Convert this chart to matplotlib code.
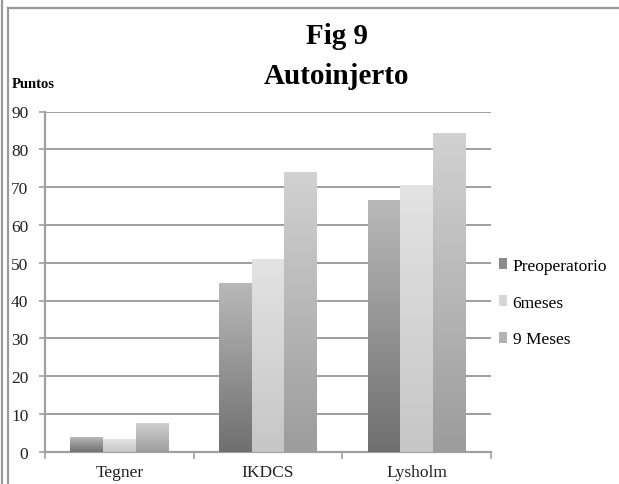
import numpy as np
import matplotlib
matplotlib.use("Agg")
import matplotlib.pyplot as plt
from matplotlib.patches import Patch
from matplotlib.lines import Line2D
from matplotlib.colors import LinearSegmentedColormap

categories = ["Tegner", "IKDCS", "Lysholm"]
series_names = ["Preoperatorio", "6meses", "9 Meses"]
preoperatorio = [3.9, 44.6, 66.6]
seis_meses = [3.3, 51.0, 70.6]
nueve_meses = [7.7, 74.1, 84.2]
y_ticks = [0, 10, 20, 30, 40, 50, 60, 70, 80, 90]

series = [preoperatorio, seis_meses, nueve_meses]
# (bottom colour, top colour) for each series' vertical gradient
gradients = [("#6f6f6f", "#b9b9b9"), ("#c6c6c6", "#e3e3e3"), ("#9c9c9c", "#d2d2d2")]
legend_colors = ["#8c8c8c", "#d6d6d6", "#b2b2b2"]

plt.rcParams["font.family"] = ["Liberation Serif", "DejaVu Serif"]

W, H = 619, 485
fig = plt.figure(figsize=(W / 100, H / 100), dpi=100)
fig.patch.set_facecolor("white")

ax = fig.add_axes([45 / W, 1 - 452.7 / H, (491 - 45) / W, (452.7 - 112.5) / H])

bar_w = 0.22
x = np.arange(len(categories)) + 0.5
grad = np.linspace(0, 1, 256).reshape(-1, 1)
for i, vals in enumerate(series):
    bars = ax.bar(x + (i - 1) * bar_w, vals, bar_w, facecolor="none",
                  edgecolor="none", zorder=3)
    cmap = LinearSegmentedColormap.from_list(f"g{i}", list(gradients[i]))
    for b in bars:
        x0, y0 = b.get_x(), b.get_y()
        im = ax.imshow(grad, cmap=cmap, origin="lower", aspect="auto",
                       extent=(x0, x0 + b.get_width(), y0, y0 + b.get_height()),
                       zorder=3)
        im.set_clip_path(b)

ax.set_xlim(0, 3)
ax.set_ylim(0, 90)

ax.set_yticks(y_ticks)
ax.set_yticklabels([str(t) for t in y_ticks], fontsize=12.5, color="#222222")
ax.yaxis.grid(True, color="#969696", linewidth=1.3, zorder=1)
ax.set_axisbelow(True)
ax.tick_params(axis="y", length=4, width=1.2, color="#a0a0a0", pad=8)

ax.set_xticks(x)
ax.set_xticklabels(categories, fontsize=12.5, color="#222222")
ax.tick_params(axis="x", length=0, pad=9)
ax.set_xticks([0, 1, 2, 3], minor=True)
ax.tick_params(axis="x", which="minor", length=5, width=1.2, color="#a0a0a0")

for s in ["top", "right"]:
    ax.spines[s].set_visible(False)
for s in ["left", "bottom"]:
    ax.spines[s].set_color("#a0a0a0")
    ax.spines[s].set_linewidth(1.6)

handles = [Patch(facecolor=c, edgecolor="none") for c in legend_colors]
fig.legend(handles, series_names, loc="upper left",
           bbox_to_anchor=(490 / W, 1 - 250 / H), frameon=False,
           fontsize=12.5, handlelength=0.5, handleheight=0.6,
           handletextpad=0.3, labelspacing=1.2, borderpad=0)

fig.text(337 / W, 1 - 37 / H, "Fig 9", ha="center", va="center",
         fontsize=21, fontweight="bold")
fig.text(337 / W, 1 - 76 / H, "Autoinjerto", ha="center", va="center",
         fontsize=21, fontweight="bold")
fig.text(12 / W, 1 - 85 / H, "Puntos", ha="left", va="center",
         fontsize=10.5, fontweight="bold")

# outer frame lines
fig.add_artist(Line2D([7.5 / W, 7.5 / W], [0, 1 - 9 / H], transform=fig.transFigure,
                      color="#9a9a9a", linewidth=1.6))
fig.add_artist(Line2D([7.5 / W, 1], [1 - 9 / H, 1 - 9 / H], transform=fig.transFigure,
                      color="#9a9a9a", linewidth=1.6))
fig.add_artist(Line2D([1.5 / W, 1.5 / W], [0, 1], transform=fig.transFigure,
                      color="#9a9a9a", linewidth=1.6))

fig.savefig("out.png", dpi=100)
